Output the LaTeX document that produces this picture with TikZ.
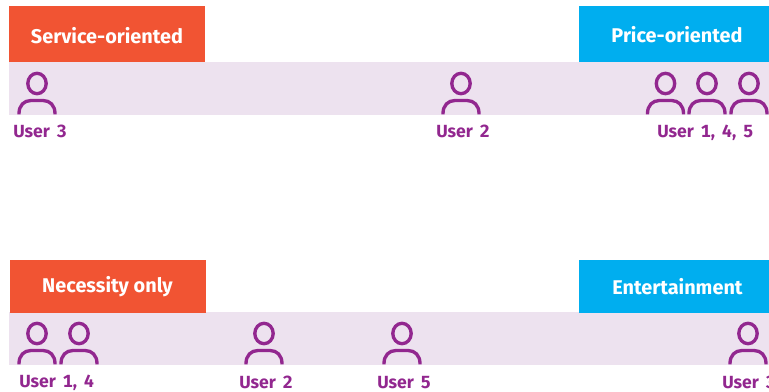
\documentclass[tikz,border=0pt]{standalone}
\usepackage{fontspec}
\setmainfont{Fira Sans}
\newfontfamily\userfont[WordSpace=1.7,Numbers=Monospaced]{Fira Sans}
\definecolor{redbox}{HTML}{F15433}
\definecolor{bluebox}{HTML}{00AEEF}
\definecolor{band}{HTML}{EDE2EF}
\definecolor{userc}{HTML}{92278F}
\tikzset{
  headbox/.style={draw=none,inner sep=0,text=white,font=\fontsize{14.9}{18}\selectfont\bfseries},
  userlabel/.style={inner sep=0,anchor=base west,text=userc,font=\userfont\fontsize{13.2}{15}\selectfont\bfseries},
  person/.pic={
    \draw[userc,line width=2.5pt] (0,-31) ellipse [x radius=9.2,y radius=10.2];
    \draw[userc,line width=2.5pt] (-18,0) -- (-18,-1) .. controls (-18,-9) and (-13,-14) .. (-6,-14) -- (6,-14) .. controls (13,-14) and (18,-9) .. (18,-1) -- (18,0);
  }
}
\begin{document}
\begin{tikzpicture}[x=0.75pt,y=-0.75pt]
\useasboundingbox (0,0) rectangle (769,392);
\clip (0,0) rectangle (769,392);
\fill[band] (9,62) rectangle (769,115);
\fill[band] (9,312) rectangle (769,365);
\foreach \x in {37,461,665.5,707,749} \pic at (\x,114.5) {person};
\foreach \x in {37,79,264,402,748} \pic at (\x,364.5) {person};
\fill[redbox] (9,6) rectangle (205,62);
\fill[bluebox] (579,6) rectangle (769,62);
\fill[redbox] (10,260) rectangle (206,313);
\fill[bluebox] (579,260) rectangle (769,313);
\node[headbox] (h1) at (107,35.5) {Service-oriented};
\node[headbox] (h2) at (677,34.5) {Price-oriented};
\node[headbox] (h3) at (107.5,287) {Necessity only};
\node[headbox] (h4) at (677.5,286.5) {Entertainment};
\node[userlabel] (u1) at (13,137.5) {User 3};
\node[userlabel] (u2) at (436,137.5) {User 2};
\node[userlabel] (u3) at (657,137.5) {User 1, 4, 5};
\node[userlabel] (u4) at (19,387.5) {User 1, 4};
\node[userlabel] (u5) at (239,388.5) {User 2};
\node[userlabel] (u6) at (377,388.5) {User 5};
\node[userlabel] (u7) at (722,388.5) {User 3};
\end{tikzpicture}
\end{document}
